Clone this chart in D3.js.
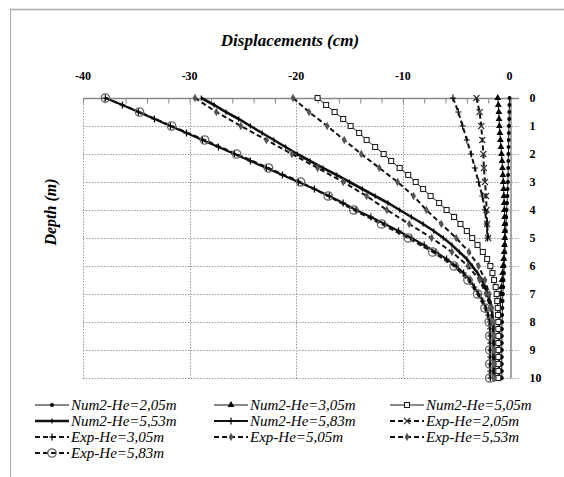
<!DOCTYPE html>
<html><head><meta charset="utf-8">
<script src="https://cdn.jsdelivr.net/npm/d3@7"></script>
<style>body{margin:0;background:#fff}svg{display:block}</style>
</head><body><svg id="c" width="564" height="477"></svg>
<script>
// ---- data ----
const depthNum = [0,0.25,0.5,0.75,1,1.25,1.5,1.75,2,2.25,2.5,2.75,3,3.25,3.5,3.75,4,4.25,4.5,4.75,5,5.25,5.5,5.75,6,6.25,6.5,6.75,7,7.25,7.5,7.75,8,8.25,8.5,8.75,9,9.25,9.5,9.75,10];
const depthExp = [0,0.5,1,1.5,2,2.5,3,3.5,4,4.5,5,5.5,6,6.5,7,7.5,8,8.5,9,9.5,10];
const depthExpShort = [0,0.5,1,1.5,2,2.5,3,3.5,4,4.5,5];
const xTicks = [-40,-30,-20,-10,0];
const yTicks = [0,1,2,3,4,5,6,7,8,9,10];

const num205 = [0,-0.01,-0.02,-0.03,-0.05,-0.06,-0.08,-0.09,-0.1,-0.11,-0.12,-0.13,-0.15,-0.17,-0.2,-0.23,-0.27,-0.3,-0.32,-0.35,-0.38,-0.41,-0.44,-0.47,-0.5,-0.53,-0.56,-0.59,-0.62,-0.65,-0.67,-0.69,-0.7,-0.71,-0.72,-0.72,-0.72,-0.72,-0.72,-0.72,-0.72];
const num305 = [-1.1,-1.05,-1.0,-0.98,-0.95,-0.9,-0.85,-0.8,-0.75,-0.7,-0.66,-0.62,-0.58,-0.55,-0.52,-0.5,-0.48,-0.46,-0.45,-0.45,-0.45,-0.47,-0.5,-0.55,-0.6,-0.65,-0.7,-0.75,-0.8,-0.84,-0.88,-0.91,-0.93,-0.94,-0.95,-0.95,-0.95,-0.95,-0.95,-0.95,-0.95];
const num505 = [-18.0,-17.2,-16.4,-15.6,-14.9,-14.1,-13.4,-12.6,-11.8,-11.1,-10.3,-9.5,-8.8,-8.1,-7.4,-6.6,-5.9,-5.2,-4.6,-4.0,-3.5,-3.0,-2.5,-2.1,-1.8,-1.6,-1.45,-1.3,-1.2,-1.15,-1.1,-1.08,-1.05,-1.05,-1.05,-1.05,-1.05,-1.05,-1.05,-1.05,-1.05];
const num553 = [-28.9,-27.7,-26.6,-25.4,-24.3,-23.2,-22.1,-21.0,-19.9,-18.7,-17.5,-16.2,-15.0,-13.8,-12.6,-11.4,-10.3,-9.2,-8.1,-7.1,-6.2,-5.4,-4.7,-4.0,-3.5,-3.0,-2.6,-2.3,-2.05,-1.85,-1.7,-1.6,-1.55,-1.52,-1.5,-1.5,-1.5,-1.5,-1.5,-1.5,-1.5];
const num583 = [-37.9,-36.3,-34.8,-33.3,-31.8,-30.3,-28.8,-27.3,-25.8,-24.3,-22.8,-21.3,-19.8,-18.3,-16.9,-15.6,-14.4,-13.0,-11.7,-10.4,-9.2,-8.0,-6.9,-5.9,-5.0,-4.3,-3.7,-3.3,-2.9,-2.5,-2.2,-2.0,-1.85,-1.82,-1.8,-1.8,-1.8,-1.8,-1.8,-1.8,-1.8];
const exp205 = [-3.1,-2.8,-2.65,-2.55,-2.45,-2.4,-2.3,-2.2,-2.15,-2.1,-2.0];
const exp305 = [-5.3,-4.8,-4.4,-4.0,-3.6,-3.25,-2.9,-2.55,-2.3,-2.15,-2.05];
const exp505 = [-20.3,-18.8,-17.1,-15.5,-13.9,-12.2,-10.5,-9.0,-7.8,-6.4,-5.0,-3.8,-2.9,-2.3,-1.9,-1.65,-1.5,-1.45,-1.4,-1.4,-1.4];
const exp553 = [-29.5,-27.5,-25.2,-22.8,-20.4,-18.0,-15.6,-13.4,-11.5,-9.4,-7.3,-5.4,-3.9,-2.8,-2.2,-1.8,-1.6,-1.55,-1.5,-1.5,-1.5];
const exp583 = [-37.9,-34.7,-31.7,-28.6,-25.6,-22.6,-19.6,-17.0,-14.6,-12.0,-9.5,-7.2,-5.2,-3.9,-3.0,-2.3,-1.9,-1.85,-1.85,-1.85,-1.85];

const seriesNames = ["Num2-He=2,05m","Num2-He=3,05m","Num2-He=5,05m","Num2-He=5,53m","Num2-He=5,83m","Exp-He=2,05m","Exp-He=3,05m","Exp-He=5,05m","Exp-He=5,53m","Exp-He=5,83m"];

const series = [
  {name:seriesNames[0], depth:depthNum, values:num205, w:1, dash:null, marker:"dot"},
  {name:seriesNames[1], depth:depthNum, values:num305, w:1, dash:null, marker:"tri"},
  {name:seriesNames[2], depth:depthNum, values:num505, w:1, dash:null, marker:"sq"},
  {name:seriesNames[3], depth:depthNum, values:num553, w:2.6, dash:null, marker:"tick"},
  {name:seriesNames[4], depth:depthNum, values:num583, w:2, dash:null, marker:"plus"},
  {name:seriesNames[5], depth:depthExpShort, values:exp205, w:2, dash:"5,3", marker:"x"},
  {name:seriesNames[6], depth:depthExpShort, values:exp305, w:2, dash:"5,3", marker:"plus"},
  {name:seriesNames[7], depth:depthExp, values:exp505, w:2, dash:"5,3", marker:"diamond"},
  {name:seriesNames[8], depth:depthExp, values:exp553, w:2, dash:"5,3", marker:"diamond"},
  {name:seriesNames[9], depth:depthExp, values:exp583, w:2, dash:"5,3", marker:"circle"}
];

// ---- drawing ----
const SERIF = '"Liberation Serif", "Times New Roman", serif';
const svg = d3.select("#c");
const x = d3.scaleLinear().domain([-40,0]).range([83,509.5]);
const y = d3.scaleLinear().domain([0,10]).range([98,378]);
const xRight = 519;

// outer border
svg.append("line").attr("x1",10).attr("x2",564).attr("y1",9.5).attr("y2",9.5).attr("stroke","#aaa").attr("stroke-width",1.5);
svg.append("line").attr("x1",10.5).attr("x2",10.5).attr("y1",9).attr("y2",477).attr("stroke","#aaa").attr("stroke-width",1);

// gridlines
const grid = svg.append("g").attr("stroke","#999").attr("stroke-width",1).attr("stroke-dasharray","1.5,1.5");
grid.selectAll(".hg").data(yTicks.filter(d=>d>0)).join("line")
  .attr("x1",x(-40)).attr("x2",xRight).attr("y1",d=>Math.round(y(d))+0.5).attr("y2",d=>Math.round(y(d))+0.5);
grid.selectAll(".vg").data(xTicks.filter(d=>d<0)).join("line")
  .attr("x1",d=>Math.round(x(d))+0.5).attr("x2",d=>Math.round(x(d))+0.5).attr("y1",y(0)).attr("y2",y(10));

// top axis
const xAxis = d3.axisTop(x).tickValues(d3.range(-40,1,2)).tickSize(-5).tickFormat("");
const gx = svg.append("g").attr("transform",`translate(0,${Math.round(y(0))+0.5})`).call(xAxis);
gx.select(".domain").remove();
gx.selectAll(".tick line").attr("stroke","#888");
svg.append("line").attr("x1",x(-40)).attr("x2",xRight).attr("y1",Math.round(y(0))+0.5).attr("y2",Math.round(y(0))+0.5).attr("stroke","#888").attr("stroke-width",1.5);
svg.selectAll(".xl").data(xTicks).join("text")
  .attr("x",d=>x(d)).attr("y",80).attr("text-anchor","middle")
  .style("font-family",SERIF).style("font-weight","bold").style("font-size","12px").text(d=>d);

// vertical axis at x=0
const yAxis = d3.axisRight(y).tickValues(yTicks).tickSize(0).tickFormat(d=>d);
const gy = svg.append("g").attr("transform",`translate(${Math.round(x(0))+0.5},0)`).call(yAxis);
gy.select(".domain").attr("stroke","#888").attr("stroke-width",1.5);
gy.selectAll(".tick text").attr("x",19).attr("fill","#000")
  .style("font-family",SERIF).style("font-weight","bold").style("font-size","12px");

// titles
svg.append("text").attr("x",290).attr("y",46).attr("text-anchor","middle")
  .style("font-family",SERIF).style("font-weight","bold").style("font-style","italic").style("font-size","17px").text("Displacements (cm)");
svg.append("text").attr("transform","translate(56,212) rotate(-90)").attr("text-anchor","middle")
  .style("font-family",SERIF).style("font-weight","bold").style("font-style","italic").style("font-size","16px").text("Depth (m)");

// markers
function marker(g, type, cx, cy){
  switch(type){
    case "dot": g.append("circle").attr("cx",cx).attr("cy",cy).attr("r",2).attr("fill","#000"); break;
    case "tri": g.append("path").attr("d",d3.symbol(d3.symbolTriangle,20)()).attr("transform",`translate(${cx},${cy})`).attr("fill","#000"); break;
    case "sq": g.append("rect").attr("x",cx-2.5).attr("y",cy-2.5).attr("width",5).attr("height",5).attr("fill","#fff").attr("stroke","#222").attr("stroke-width",1.1); break;
    case "tick": g.append("path").attr("d",`M${cx},${cy-2.5}V${cy+2.5}`).attr("stroke","#000").attr("stroke-width",1.2); break;
    case "plus": g.append("path").attr("d",`M${cx-3},${cy}H${cx+3}M${cx},${cy-3.5}V${cy+3.5}`).attr("stroke","#000").attr("stroke-width",1.2).attr("fill","none"); break;
    case "x": g.append("path").attr("d",`M${cx-3},${cy-3}L${cx+3},${cy+3}M${cx-3},${cy+3}L${cx+3},${cy-3}`).attr("stroke","#333").attr("stroke-width",1.2); break;
    case "diamond": g.append("path").attr("d",d3.symbol(d3.symbolDiamond,20)()).attr("transform",`translate(${cx},${cy})`).attr("fill","#555"); break;
    case "circle": g.append("circle").attr("cx",cx).attr("cy",cy).attr("r",4.2).attr("fill","none").attr("stroke","#666").attr("stroke-width",1.3); break;
  }
}

const line = d3.line().x(d=>x(d[1])).y(d=>y(d[0]));
series.forEach(s=>{
  const pts = s.depth.map((d,i)=>[d,s.values[i]]);
  const g = svg.append("g");
  g.append("path").attr("d",line(pts)).attr("fill","none").attr("stroke","#111")
    .attr("stroke-width",s.w).attr("stroke-dasharray",s.dash);
  pts.forEach(p=>marker(g,s.marker,x(p[1]),y(p[0])));
});

// legend
const colX = [35,214,390], rowY = [405,421,437,453];
series.forEach((s,i)=>{
  const cx = colX[i%3], cy = rowY[Math.floor(i/3)];
  const g = svg.append("g");
  g.append("line").attr("x1",cx).attr("x2",cx+34).attr("y1",cy).attr("y2",cy).attr("stroke","#111")
    .attr("stroke-width",s.w).attr("stroke-dasharray",s.dash);
  marker(g,s.marker,cx+17,cy);
  g.append("text").attr("x",cx+36).attr("y",cy+5)
    .style("font-family",SERIF).style("font-style","italic").style("font-size","15px").text(s.name);
});
</script></body></html>
